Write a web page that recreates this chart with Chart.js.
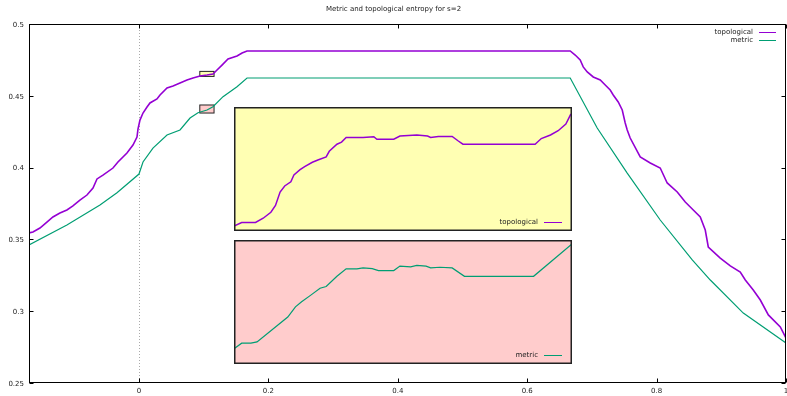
<!DOCTYPE html>
<html><head><meta charset="utf-8">
<script src="https://cdn.jsdelivr.net/npm/chart.js@4/dist/chart.umd.min.js"></script>
<style>
body{margin:0;background:#fff}
#wrap{position:relative;width:787px;height:396px;overflow:hidden}
canvas{position:absolute}
</style></head>
<body><div id="wrap">
<canvas id="main" width="787" height="396" style="left:0;top:0"></canvas>
<canvas id="topo" width="338" height="124" style="left:234px;top:107px"></canvas>
<canvas id="metric" width="338" height="124" style="left:234px;top:240px"></canvas>
</div>
<script>
const titleText = 'Metric and topological entropy for s=2';
const seriesNames = ['topological', 'metric'];
const xTicks = [0, 0.2, 0.4, 0.6, 0.8, 1];
const xTickLabels = ['0', '0.2', '0.4', '0.6', '0.8', '1'];
const yTicks = [0.25, 0.3, 0.35, 0.4, 0.45, 0.5];
const yTickLabels = ['0.25', '0.3', '0.35', '0.4', '0.45', '0.5'];
const xRange = [-0.17, 1];
const yRange = [0.25, 0.5];

const topoX = [-0.17,-0.1639,-0.1531,-0.1423,-0.1330,-0.1222,-0.1114,-0.1021,-0.0913,-0.0804,-0.0711,-0.0649,-0.0557,-0.0402,-0.0325,-0.0186,-0.0093,-0.0031,-0.0015,0.0015,0.0062,0.0124,0.0170,0.0278,0.0325,0.0433,0.0526,0.0634,0.0742,0.0835,0.0943,0.1051,0.1144,0.1206,0.1283,0.1376,0.1515,0.1593,0.1670,0.6665,0.6742,0.6819,0.6866,0.6928,0.7021,0.7129,0.7206,0.7283,0.7330,0.7407,0.7469,0.7515,0.7546,0.7592,0.7747,0.7902,0.8056,0.8164,0.8319,0.8443,0.8567,0.8675,0.8752,0.8799,0.8984,0.9139,0.9293,0.9371,0.9494,0.9603,0.9727,0.9912,1.0];
const topoY = [0.3545,0.3552,0.3579,0.3621,0.3656,0.3684,0.3705,0.3733,0.3774,0.3809,0.3858,0.3921,0.3948,0.3997,0.4039,0.4102,0.4157,0.4213,0.4269,0.4331,0.4380,0.4422,0.4450,0.4478,0.4506,0.4554,0.4568,0.4589,0.4610,0.4624,0.4638,0.4645,0.4652,0.4680,0.4714,0.4756,0.4777,0.4798,0.4812,0.4812,0.4784,0.4749,0.4701,0.4666,0.4631,0.4610,0.4575,0.4540,0.4506,0.4457,0.4401,0.4311,0.4262,0.4206,0.4074,0.4032,0.3997,0.3893,0.3830,0.3760,0.3705,0.3656,0.3565,0.3447,0.3370,0.3315,0.3273,0.3217,0.3148,0.3078,0.2974,0.2890,0.2813];

const metricX = [-0.17,-0.1114,-0.0603,-0.0340,0,0.0062,0.0216,0.0433,0.0634,0.0789,0.0912,0.1051,0.1144,0.1299,0.1515,0.1670,0.6665,0.7082,0.7546,0.8056,0.8551,0.8830,0.9340,1.0];
const metricY = [0.3461,0.3600,0.3740,0.3825,0.3955,0.4039,0.4136,0.4227,0.4262,0.4345,0.4382,0.4401,0.4424,0.4494,0.4563,0.4624,0.4624,0.4276,0.3962,0.3635,0.3357,0.3217,0.2987,0.2779];

// zoomed insets
const insetXRange = [0.094, 0.116];
const topoInsetYRange = [0.4635, 0.4670];
const metricInsetYRange = [0.4380, 0.4436];

const topoInsetX = [0.0940,0.0945,0.0954,0.0959,0.0964,0.0967,0.0970,0.0973,0.0977,0.0979,0.0983,0.0986,0.0991,0.0995,0.1000,0.1002,0.1007,0.1010,0.1013,0.1024,0.1031,0.1033,0.1044,0.1048,0.1059,0.1066,0.1068,0.1073,0.1082,0.1086,0.1089,0.1136,0.1140,0.1146,0.1151,0.1156,0.1159,0.1160];
const topoInsetY = [0.46364,0.46374,0.46374,0.46386,0.46403,0.46422,0.46460,0.46477,0.46489,0.46508,0.46523,0.46532,0.46544,0.46551,0.46559,0.46575,0.46595,0.46601,0.46614,0.46614,0.46616,0.46609,0.46609,0.46618,0.46621,0.46618,0.46614,0.46617,0.46617,0.46604,0.46595,0.46595,0.46611,0.46621,0.46633,0.46652,0.46678,0.46681];

const metricInsetX = [0.0940,0.0945,0.0951,0.0955,0.0975,0.0980,0.0984,0.0990,0.0996,0.1000,0.1007,0.1013,0.1020,0.1024,0.1030,0.1034,0.1044,0.1048,0.1055,0.1059,0.1065,0.1068,0.1074,0.1082,0.1090,0.1135,0.1160];
const metricInsetY = [0.43869,0.43894,0.43894,0.43900,0.44012,0.44058,0.44081,0.44111,0.44142,0.44150,0.44196,0.44230,0.44230,0.44234,0.44231,0.44222,0.44222,0.44242,0.44239,0.44245,0.44242,0.44234,0.44237,0.44234,0.44196,0.44196,0.44342];

const COL_TOPO = '#9400d3';
const COL_METRIC = '#009e73';
const FONT = '7px "DejaVu Sans", sans-serif';
const TXT = '#222';

const pts = (xs, ys) => xs.map((v, i) => ({x: v, y: ys[i]}));

function drawRect(chart, xr, yr, fill) {
  const {ctx, scales: {x, y}} = chart;
  const x1 = x.getPixelForValue(xr[0]), x2 = x.getPixelForValue(xr[1]);
  const y1 = y.getPixelForValue(yr[1]), y2 = y.getPixelForValue(yr[0]);
  ctx.fillStyle = fill;
  ctx.fillRect(x1, y1, x2 - x1, y2 - y1);
  ctx.strokeStyle = '#222';
  ctx.lineWidth = 1;
  ctx.strokeRect(x1, y1, x2 - x1, y2 - y1);
}

const mainPlugin = {
  id: 'gnuMain',
  beforeDatasetsDraw(chart) {
    const {ctx, chartArea: a, scales: {x}} = chart;
    ctx.save();
    const x0 = Math.round(x.getPixelForValue(0)) + 0.5;
    ctx.strokeStyle = '#aaa'; ctx.lineWidth = 1; ctx.setLineDash([1, 2]);
    ctx.beginPath(); ctx.moveTo(x0, a.top); ctx.lineTo(x0, a.bottom); ctx.stroke();
    ctx.setLineDash([]);
    drawRect(chart, insetXRange, topoInsetYRange, '#ffffb3');
    drawRect(chart, insetXRange, metricInsetYRange, '#ffcccc');
    ctx.restore();
  },
  afterDatasetsDraw(chart) {
    const {ctx, chartArea: a, scales: {x, y}} = chart;
    ctx.save();
    ctx.strokeStyle = '#000'; ctx.lineWidth = 1;
    const L = Math.round(a.left) + 0.5, R = Math.round(a.right) - 0.5;
    const T = Math.round(a.top) + 0.5, B = Math.round(a.bottom) - 0.5;
    ctx.strokeRect(L, T, R - L, B - T);
    ctx.beginPath();
    xTicks.forEach(v => {
      const px = Math.round(x.getPixelForValue(v)) + 0.5;
      ctx.moveTo(px, B); ctx.lineTo(px, B - 4);
      ctx.moveTo(px, T); ctx.lineTo(px, T + 4);
    });
    yTicks.forEach(v => {
      const py = Math.round(y.getPixelForValue(v)) + 0.5;
      ctx.moveTo(L, py); ctx.lineTo(L + 4, py);
      ctx.moveTo(R, py); ctx.lineTo(R - 4, py);
    });
    ctx.stroke();
    ctx.font = FONT; ctx.fillStyle = TXT;
    ctx.textAlign = 'center'; ctx.textBaseline = 'middle';
    xTicks.forEach((v, i) => ctx.fillText(xTickLabels[i], x.getPixelForValue(v), a.bottom + 8.5));
    ctx.textAlign = 'right';
    yTicks.forEach((v, i) => ctx.fillText(yTickLabels[i], a.left - 5, y.getPixelForValue(v) + 1));
    // title
    ctx.textAlign = 'center';
    ctx.fillText(titleText, chart.width / 2, 9);
    // legend
    const cols = [COL_TOPO, COL_METRIC];
    seriesNames.forEach((n, i) => {
      const ly = 32.5 + i * 8;
      ctx.textAlign = 'right'; ctx.fillStyle = TXT;
      ctx.fillText(n, 753, ly);
      ctx.strokeStyle = cols[i]; ctx.lineWidth = 1;
      ctx.beginPath(); ctx.moveTo(759, ly); ctx.lineTo(776, ly); ctx.stroke();
    });
    ctx.restore();
  }
};

new Chart(document.getElementById('main'), {
  type: 'line',
  data: {datasets: [
    {label: seriesNames[0], data: pts(topoX, topoY), borderColor: COL_TOPO, borderWidth: 1.6, pointRadius: 0, tension: 0},
    {label: seriesNames[1], data: pts(metricX, metricY), borderColor: COL_METRIC, borderWidth: 1.2, pointRadius: 0, tension: 0}
  ]},
  options: {
    responsive: false, animation: false, devicePixelRatio: 1,
    layout: {padding: {left: 29, top: 24, right: 1, bottom: 13}},
    scales: {
      x: {type: 'linear', min: xRange[0], max: xRange[1], display: false},
      y: {type: 'linear', min: yRange[0], max: yRange[1], display: false}
    },
    plugins: {legend: {display: false}, title: {display: false}, tooltip: {enabled: false}}
  },
  plugins: [mainPlugin]
});

function insetPlugin(bg, name, col) {
  return {
    id: 'inset',
    beforeDraw(chart) {
      const {ctx, width, height} = chart;
      ctx.save(); ctx.fillStyle = bg; ctx.fillRect(0, 0, width, height); ctx.restore();
    },
    afterDraw(chart) {
      const {ctx, width, height} = chart;
      ctx.save();
      ctx.strokeStyle = '#222'; ctx.lineWidth = 1.5;
      ctx.strokeRect(0.75, 0.75, width - 1.5, height - 1.5);
      ctx.font = FONT; ctx.fillStyle = TXT; ctx.textAlign = 'right'; ctx.textBaseline = 'middle';
      ctx.fillText(name, width - 34, height - 9);
      ctx.strokeStyle = col; ctx.lineWidth = 1;
      ctx.beginPath(); ctx.moveTo(width - 28, height - 8.5); ctx.lineTo(width - 10, height - 8.5); ctx.stroke();
      ctx.restore();
    }
  };
}

function makeInset(id, xs, ys, yr, col, bg, name, lw) {
  new Chart(document.getElementById(id), {
    type: 'line',
    data: {datasets: [{label: name, data: pts(xs, ys), borderColor: col, borderWidth: lw, pointRadius: 0, tension: 0}]},
    options: {
      responsive: false, animation: false, devicePixelRatio: 1,
      layout: {padding: 0},
      scales: {
        x: {type: 'linear', min: insetXRange[0], max: insetXRange[1], display: false},
        y: {type: 'linear', min: yr[0], max: yr[1], display: false}
      },
      plugins: {legend: {display: false}, title: {display: false}, tooltip: {enabled: false}}
    },
    plugins: [insetPlugin(bg, name, col)]
  });
}
makeInset('topo', topoInsetX, topoInsetY, topoInsetYRange, COL_TOPO, '#ffffb3', seriesNames[0], 1.5);
makeInset('metric', metricInsetX, metricInsetY, metricInsetYRange, COL_METRIC, '#ffcccc', seriesNames[1], 1.2);
</script>
</body></html>
